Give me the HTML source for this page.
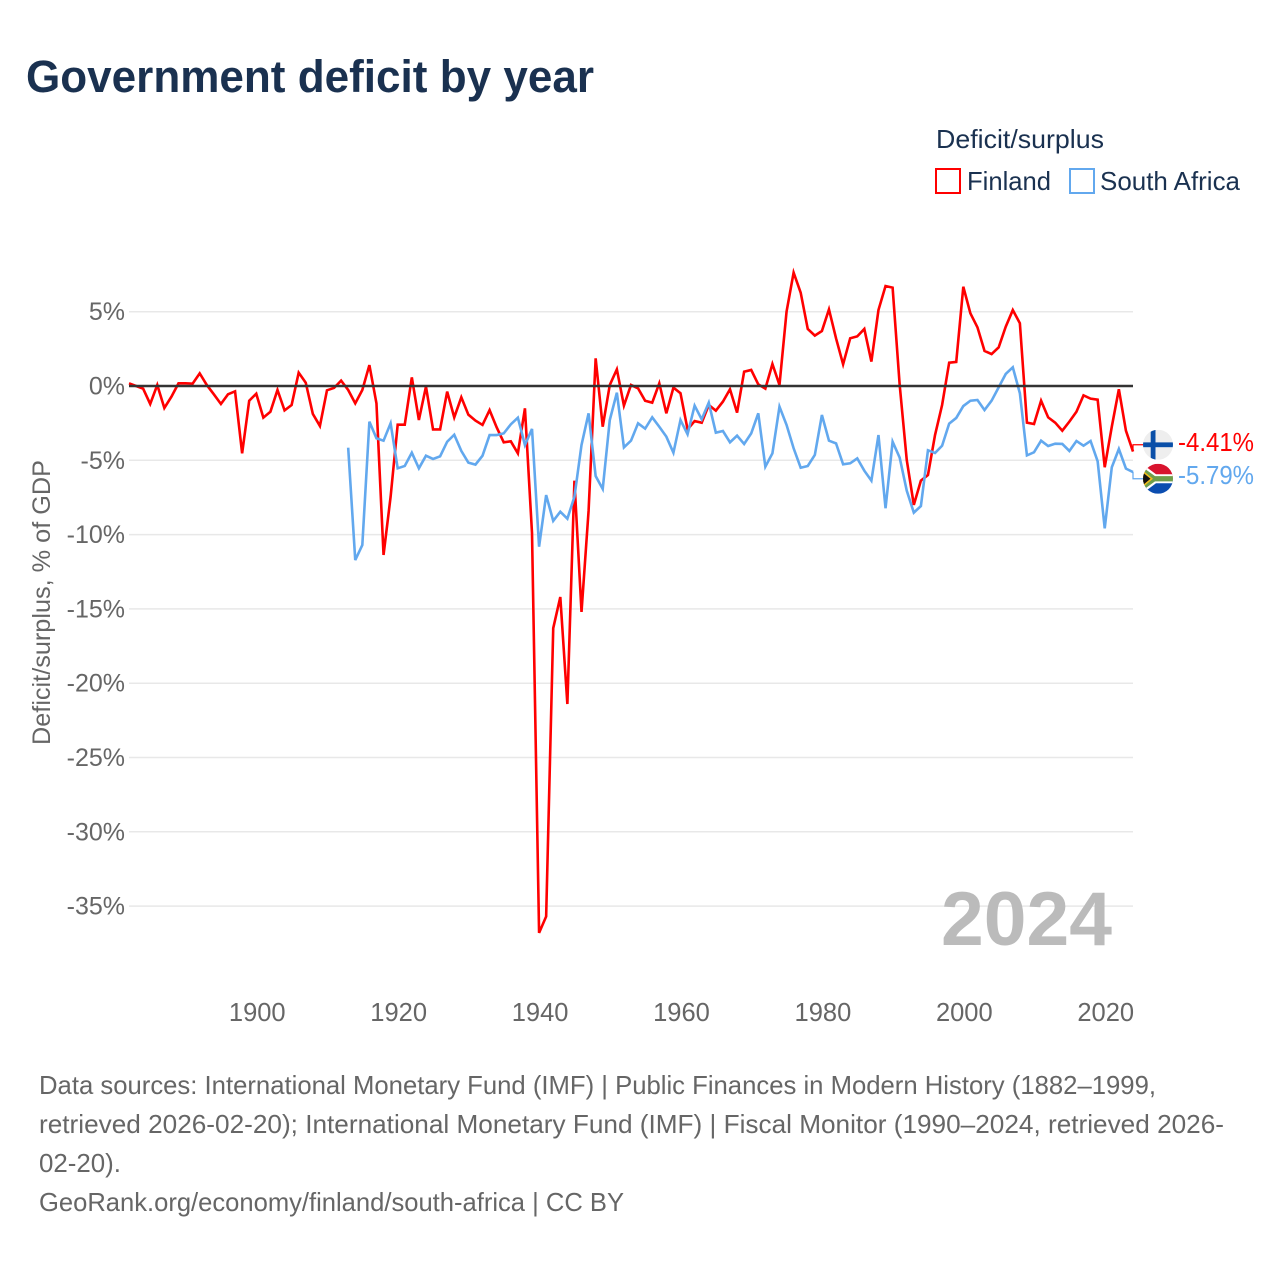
<!DOCTYPE html>
<html lang="en">
<head>
<meta charset="utf-8">
<title>Government deficit by year</title>
<style>
  html, body { margin: 0; padding: 0; background: #fff; width: 1280px; height: 1280px; overflow: hidden; }
  svg { display: block; font-family: "Liberation Sans", sans-serif; }
</style>
</head>
<body>
<svg id="chart" xmlns="http://www.w3.org/2000/svg" width="1280" height="1280" viewBox="0 0 1280 1280">
  <defs>
    <clipPath id="fi-clip"><circle cx="0" cy="0" r="15"></circle></clipPath>
    <clipPath id="za-clip"><circle cx="0" cy="0" r="15"></circle></clipPath>
  </defs>
  <rect x="0" y="0" width="1280" height="1280" fill="#ffffff"></rect>
  <text x="26" y="92" font-size="45" font-weight="700" fill="#1a3150" textLength="568" lengthAdjust="spacingAndGlyphs">Government deficit by year</text>

  <g>
    <text x="936" y="148" font-size="26" fill="#1a3150" textLength="168" lengthAdjust="spacingAndGlyphs">Deficit/surplus</text>
    <rect x="936" y="169" width="24" height="24" fill="#ffffff" stroke="#ff0000" stroke-width="2"></rect>
    <text x="967" y="190" font-size="26" fill="#1a3150" textLength="84" lengthAdjust="spacingAndGlyphs">Finland</text>
    <rect x="1070" y="169" width="24" height="24" fill="#ffffff" stroke="#62a8ee" stroke-width="2"></rect>
    <text x="1100" y="190" font-size="26" fill="#1a3150" textLength="140" lengthAdjust="spacingAndGlyphs">South Africa</text>
  </g>

  <g id="grid"></g>
  <g id="y-axis"></g>
  <g id="x-axis"></g>
  <text transform="translate(50,602.5) rotate(-90)" text-anchor="middle" font-size="25" fill="#666666" textLength="285" lengthAdjust="spacingAndGlyphs">Deficit/surplus, % of GDP</text>
  <text x="941" y="945" font-size="76" font-weight="700" fill="#bbbbbb" textLength="171" lengthAdjust="spacingAndGlyphs">2024</text>

  <g id="series"></g>
  <g id="end-labels"></g>

  <g font-size="26" fill="#666666">
    <text x="39" y="1094" textLength="1117" lengthAdjust="spacingAndGlyphs">Data sources: International Monetary Fund (IMF) | Public Finances in Modern History (1882–1999,</text>
    <text x="39" y="1133" textLength="1185" lengthAdjust="spacingAndGlyphs">retrieved 2026-02-20); International Monetary Fund (IMF) | Fiscal Monitor (1990–2024, retrieved 2026-</text>
    <text x="39" y="1172" textLength="82" lengthAdjust="spacingAndGlyphs">02-20).</text>
    <text x="39" y="1211" textLength="585" lengthAdjust="spacingAndGlyphs">GeoRank.org/economy/finland/south-africa | CC BY</text>
  </g>
</svg>
<script>
const finlandStartYear = 1882;
const finlandValues = [
  0.18, 0, -0.18, -1.21, 0.07, -1.48, -0.72, 0.18, 0.18, 0.16,
  0.85, 0.07, -0.56, -1.21, -0.56, -0.36, -4.53, -0.99, -0.52, -2.13,
  -1.73, -0.27, -1.64, -1.28, 0.9, 0.22, -1.88, -2.69, -0.29, -0.13,
  0.36, -0.27, -1.17, -0.27, 1.41, -1.17, -11.37, -7.45, -2.6, -2.6,
  0.58, -2.29, -0.04, -2.92, -2.92, -0.38, -2.11, -0.76, -1.93, -2.33,
  -2.62, -1.62, -2.78, -3.79, -3.72, -4.53, -1.5, -9.9, -36.8, -35.7,
  -16.3, -14.2, -21.4, -6.37, -15.2, -8.4, 1.86, -2.74, 0.07, 1.12,
  -1.32, 0.07, -0.16, -0.99, -1.12, 0.18, -1.84, -0.11, -0.49, -2.92,
  -2.36, -2.47, -1.28, -1.66, -1.05, -0.22, -1.79, 0.96, 1.08, 0.11,
  -0.18, 1.48, 0.07, 5.0, 7.63, 6.28, 3.84, 3.39, 3.7, 5.16,
  3.21, 1.46, 3.21, 3.34, 3.84, 1.64, 5.11, 6.73, 6.62, 0.07,
  -4.98, -8.0, -6.37, -5.99, -3.3, -1.28, 1.57, 1.62, 6.68, 4.89,
  3.95, 2.36, 2.15, 2.6, 3.99, 5.11, 4.22, -2.47, -2.56, -0.99,
  -2.11, -2.47, -3.01, -2.4, -1.73, -0.63, -0.85, -0.92, -5.47, -2.74,
  -0.22, -3.01, -4.41
];
const southAfricaStartYear = 1913;
const southAfricaValues = [
  -4.15, -11.71, -10.7, -2.4, -3.52, -3.68, -2.51, -5.54, -5.38, -4.49,
  -5.54, -4.69, -4.91, -4.73, -3.75, -3.28, -4.37, -5.16, -5.29, -4.69,
  -3.3, -3.3, -3.19, -2.58, -2.13, -3.97, -2.89, -10.81, -7.34, -9.08,
  -8.46, -8.93, -7.45, -3.97, -1.84, -6.06, -6.93, -2.29, -0.45, -4.13,
  -3.68, -2.51, -2.87, -2.11, -2.74, -3.41, -4.49, -2.29, -3.25, -1.32,
  -2.24, -1.12, -3.14, -3.03, -3.79, -3.34, -3.9, -3.19, -1.84, -5.43,
  -4.53, -1.39, -2.62, -4.19, -5.5, -5.38, -4.64, -1.95, -3.68, -3.86,
  -5.27, -5.2, -4.87, -5.7, -6.37, -3.3, -8.23, -3.75, -4.82, -7.04,
  -8.52, -8.08, -4.33, -4.51, -4.02, -2.53, -2.15, -1.35, -0.99, -0.94,
  -1.62, -0.99, -0.09, 0.81, 1.26, -0.49, -4.67, -4.46, -3.68, -4.04,
  -3.88, -3.9, -4.37, -3.7, -4.02, -3.7, -5.07, -9.58, -5.47, -4.24,
  -5.56, -5.79
];
const yTickValues = [5, 0, -5, -10, -15, -20, -25, -30, -35];
const xTickYears = [1900, 1920, 1940, 1960, 1980, 2000, 2020];

const SVG_NS = 'http://www.w3.org/2000/svg';
const plotLeft = 129, plotRight = 1133;
const axisYearMin = 1882, axisYearMax = 2024;
const zeroPixel = 386, pixelsPerPercent = 14.86;

function xScale(year) {
  return plotLeft + (year - axisYearMin) * (plotRight - plotLeft) / (axisYearMax - axisYearMin);
}
function yScale(value) {
  return zeroPixel - value * pixelsPerPercent;
}
function make(tag, attrs, parent) {
  const el = document.createElementNS(SVG_NS, tag);
  for (const k in attrs) el.setAttribute(k, attrs[k]);
  parent.appendChild(el);
  return el;
}
function linePath(startYear, values) {
  return values.map((v, i) => (i ? 'L' : 'M') + xScale(startYear + i).toFixed(2) + ' ' + yScale(v).toFixed(2)).join(' ');
}

const gridGroup = document.getElementById('grid');
const yAxisGroup = document.getElementById('y-axis');
const xAxisGroup = document.getElementById('x-axis');
const seriesGroup = document.getElementById('series');
const endGroup = document.getElementById('end-labels');

yTickValues.forEach(function (v) {
  if (v !== 0) {
    const gl = make('line', { x1: plotLeft, x2: plotRight, y1: yScale(v), y2: yScale(v), stroke: '#e8e8e8', 'stroke-width': 1.5 }, gridGroup);
    
    
  }
  const t = make('text', { x: 125, y: yScale(v) + 8.5, 'text-anchor': 'end', 'font-size': 25, fill: '#666666' }, yAxisGroup);
  
  
  t.textContent = v + '%';
});

xTickYears.forEach(function (yr) {
  const t = make('text', { x: xScale(yr) + 1, y: 1021, 'text-anchor': 'middle', 'font-size': 25.5, fill: '#666666' }, xAxisGroup);
  
  
  t.textContent = yr;
});

const finlandLine = make('path', { d: linePath(finlandStartYear, finlandValues), fill: 'none', stroke: '#ff0000', 'stroke-width': 2.6, 'stroke-linejoin': 'miter' }, seriesGroup);



const southAfricaLine = make('path', { d: linePath(southAfricaStartYear, southAfricaValues), fill: 'none', stroke: '#62a8ee', 'stroke-width': 2.6, 'stroke-linejoin': 'miter' }, seriesGroup);



const zeroLine = make('line', { x1: plotLeft, x2: plotRight, y1: yScale(0), y2: yScale(0), stroke: '#333333', 'stroke-width': 2.4 }, gridGroup.parentNode);



const finlandEnd = finlandValues[finlandValues.length - 1];
const southAfricaEnd = southAfricaValues[southAfricaValues.length - 1];
const labelMid = (yScale(finlandEnd) + yScale(southAfricaEnd)) / 2;
const finlandLabelY = labelMid - 17;
const southAfricaLabelY = labelMid + 17;

const finlandConnector = make('path', { d: 'M1133 ' + yScale(finlandEnd) + ' V' + finlandLabelY + ' H1143', fill: 'none', stroke: '#ff0000', 'stroke-width': 1.2 }, endGroup);



const southAfricaConnector = make('path', { d: 'M1133 ' + yScale(southAfricaEnd) + ' V' + southAfricaLabelY + ' H1143', fill: 'none', stroke: '#62a8ee', 'stroke-width': 1.2 }, endGroup);



const fiFlag = make('g', { transform: 'translate(1158,' + finlandLabelY + ')', 'clip-path': 'url(#fi-clip)' }, endGroup);


make('rect', { x: -15, y: -15, width: 30, height: 30, fill: '#eeeeee' }, fiFlag);
make('rect', { x: -7.3, y: -15, width: 4.8, height: 30, fill: '#0a4fa8' }, fiFlag);
make('rect', { x: -15, y: -2.4, width: 30, height: 4.8, fill: '#0a4fa8' }, fiFlag);

const zaFlag = make('g', { transform: 'translate(1158,' + southAfricaLabelY + ')', 'clip-path': 'url(#za-clip)' }, endGroup);


make('rect', { x: -15, y: -15, width: 30, height: 15, fill: '#d8142e' }, zaFlag);
make('rect', { x: -15, y: 0, width: 30, height: 15, fill: '#0b4db0' }, zaFlag);
make('path', { d: 'M-16 -15 L-2 -4.5 H16 V4.5 H-2 L-16 15 Z', fill: '#ffffff' }, zaFlag);
make('path', { d: 'M-16 -12 L-3 -2.6 H16 V2.6 H-3 L-16 12 Z', fill: '#6f9e4a' }, zaFlag);
make('path', { d: 'M-16 -9 L-5 0 L-16 9 Z', fill: '#f3bd1c' }, zaFlag);
make('path', { d: 'M-16 -7 L-7.5 0 L-16 7 Z', fill: '#111111' }, zaFlag);

const finlandLabel = make('text', { x: 1178, y: finlandLabelY + 6, 'font-size': 25.5, fill: '#ff0000', textLength: 76, lengthAdjust: 'spacingAndGlyphs' }, endGroup);


finlandLabel.textContent = finlandEnd.toFixed(2) + '%';

const southAfricaLabel = make('text', { x: 1178, y: southAfricaLabelY + 5, 'font-size': 25.5, fill: '#62a8ee', textLength: 76, lengthAdjust: 'spacingAndGlyphs' }, endGroup);


southAfricaLabel.textContent = southAfricaEnd.toFixed(2) + '%';
</script>
</body>
</html>
